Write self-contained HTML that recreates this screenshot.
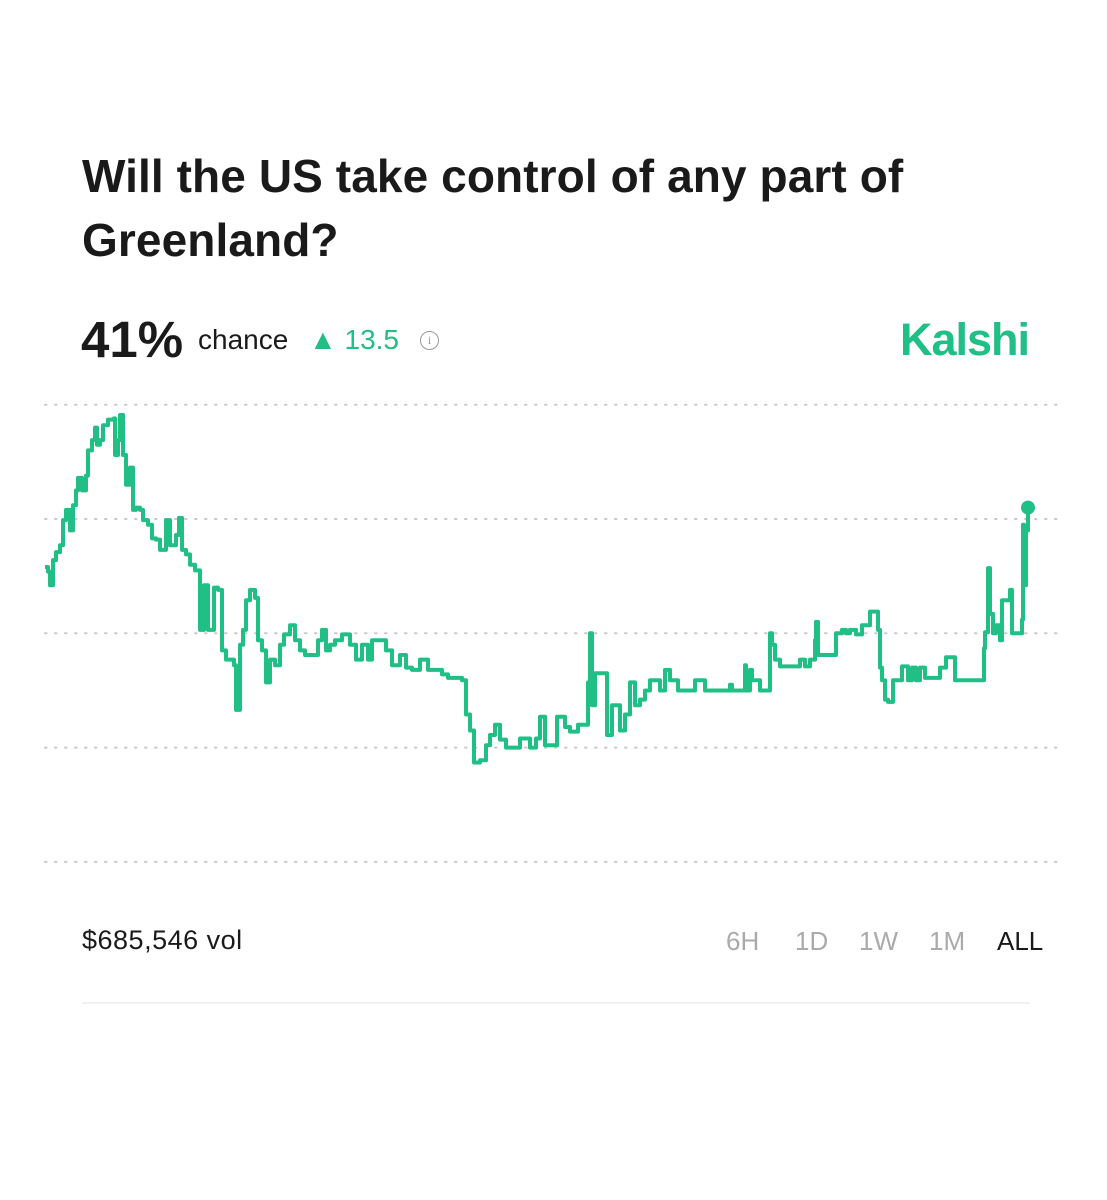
<!DOCTYPE html>
<html><head><meta charset="utf-8"><style>
body{margin:0;background:#fff;width:1107px;height:1200px;overflow:hidden;font-family:"Liberation Sans",sans-serif;position:relative}
.a{position:absolute;white-space:nowrap}
</style></head><body>
<div class="a" style="left:82px;top:144px;font-size:46px;font-weight:bold;color:#1a1a1a;line-height:64px;letter-spacing:0.1px">Will the US take control of any part of<br>Greenland?</div>
<div class="a" style="left:81px;top:310px;font-size:51px;font-weight:bold;color:#1a1a1a">41%</div>
<div class="a" style="left:198px;top:324px;font-size:28px;color:#1a1a1a">chance</div>
<div class="a" style="left:309px;top:324px;font-size:28px;color:#1fbf85">▲ 13.5</div>
<div class="a" style="left:420px;top:331px;width:19px;height:19px;border:1.5px solid #999;border-radius:50%;box-sizing:border-box;font-size:12px;color:#999;text-align:center;line-height:17px;font-family:'Liberation Serif',serif">i</div>
<div class="a" style="left:900px;top:314px;font-size:45px;font-weight:bold;color:#1fbf85;letter-spacing:-1px">Kalshi</div>
<svg class="a" style="left:0;top:0" width="1107" height="1200" id="chart"></svg>
<div class="a" style="left:82px;top:925px;font-size:27px;color:#1a1a1a;letter-spacing:0.5px">$685,546 vol</div>
<div class="a" style="left:726px;top:926px;font-size:26px;color:#aaa">6H</div>
<div class="a" style="left:795px;top:926px;font-size:26px;color:#aaa">1D</div>
<div class="a" style="left:859px;top:926px;font-size:26px;color:#aaa">1W</div>
<div class="a" style="left:929px;top:926px;font-size:26px;color:#aaa">1M</div>
<div class="a" style="left:997px;top:926px;font-size:26px;color:#1a1a1a">ALL</div>
<div class="a" style="left:82px;top:1002px;width:948px;height:2px;background:#f0f0f0"></div>
<script>
const gridValues=[50,40,30,20,10];
const times=[0,3,5,8,11,15,18,21,25,28,31,33,37,41,43,47,50,52,55,58,63,69,70,73,75,78,81,85,88,91,95,98,103,107,111,115,121,125,131,134,137,141,145,150,155,159,163,169,173,177,181,185,189,191,195,198,201,205,210,213,217,221,225,230,235,239,245,250,255,260,267,273,277,281,285,290,297,305,311,317,323,327,335,341,347,355,361,367,375,383,390,397,403,417,421,425,429,435,441,445,450,455,461,469,475,485,491,
495,500,512,520,525,533,541,543,545,547,550,561,562,567,573,575,580,585,590,595,600,605,610,615,620,625,633,645,650,655,660,665,685,687,690,700,701,705,707,715,725,727,730,735,740,755,760,765,770,771,773,777,785,791,793,797,801,805,811,817,821,825,829,833,835,837,840,843,848,851,857,863,867,871,875,880,887,895,901,905,910,913,930,939,940,943,945,948,951,955,957,961,965,967,970,977,978,979,981,983];
const values=[35.8,35.4,34.2,36.4,37.1,37.7,39.9,40.8,39.0,41.2,42.5,43.6,42.5,43.8,46.0,46.9,48.0,46.5,46.9,48.2,48.7,48.8,45.6,46.9,49.1,45.6,43.0,44.5,40.8,41.0,40.8,39.9,39.5,38.3,38.2,37.3,39.9,37.7,38.6,40.1,37.3,36.9,36.0,35.5,30.3,34.2,30.3,34.0,33.8,28.5,27.7,27.7,27.2,23.3,29.0,30.3,32.9,33.8,33.1,29.4,28.5,25.7,27.7,27.2,29.0,29.9,30.7,29.4,28.5,28.1,28.1,29.4,30.3,28.5,29.0,29.4,29.9,29.0,27.7,29.0,27.7,29.4,29.4,28.5,27.2,28.1,27.0,26.8,27.7,26.8,26.8,26.4,26.1,25.9,22.9,21.5,18.7,18.9,20.2,21.1,22.0,20.7,20.0,20.0,20.8,20.0,20.8,
22.7,20.2,22.7,21.8,21.4,22.0,22.0,25.7,30.0,23.7,26.5,26.5,21.1,23.7,23.7,21.5,22.9,25.7,23.7,24.2,25.0,25.9,25.9,25.0,26.8,25.9,25.0,25.0,25.9,25.9,25.0,25.0,25.5,25.0,25.0,27.2,25.0,26.8,25.9,25.0,30.0,29.0,27.7,27.1,27.1,27.7,27.1,27.7,29.4,31.0,28.1,28.1,28.1,30.0,30.0,30.3,30.0,30.3,29.9,30.7,30.7,31.9,31.9,30.3,27.0,25.9,24.2,24.0,25.9,25.9,27.1,25.9,27.0,25.9,27.0,26.1,26.1,27.0,27.9,27.9,25.9,25.9,25.9,28.7,30.1,35.7,31.7,30.0,30.7,29.4,32.9,32.9,33.8,30.0,30.0,31.2,39.5,34.2,39.0,41.0];
const xScale=t=>45+t;
const yScale=v=>519-(v-40)*11.43;
const svg=document.getElementById('chart');
const NS='http://www.w3.org/2000/svg';
gridValues.forEach(g=>{
  const l=document.createElementNS(NS,'line');
  
  
  l.setAttribute('x1',45);l.setAttribute('x2',1062);
  l.setAttribute('y1',yScale(g));l.setAttribute('y2',yScale(g));
  l.setAttribute('stroke','#c8c8c8');l.setAttribute('stroke-width','2');
  l.setAttribute('stroke-dasharray','1.5 8.5');l.setAttribute('stroke-linecap','round');
  svg.appendChild(l);
});
const n=Math.min(times.length,values.length);
let d='';
for(let i=0;i<n;i++){
  const x=xScale(times[i]).toFixed(1),y=yScale(values[i]).toFixed(1);
  if(i===0)d+='M'+x+' '+y;else d+=' H'+x+' V'+y;
}
const p=document.createElementNS(NS,'path');


p.setAttribute('d',d);p.setAttribute('fill','none');p.setAttribute('stroke','#1fbf85');
p.setAttribute('stroke-width','4');p.setAttribute('stroke-linejoin','round');
svg.appendChild(p);
const c=document.createElementNS(NS,'circle');


c.setAttribute('cx',xScale(times[n-1]));c.setAttribute('cy',yScale(values[n-1]));
c.setAttribute('r','7');c.setAttribute('fill','#1fbf85');
svg.appendChild(c);
</script>
</body></html>
